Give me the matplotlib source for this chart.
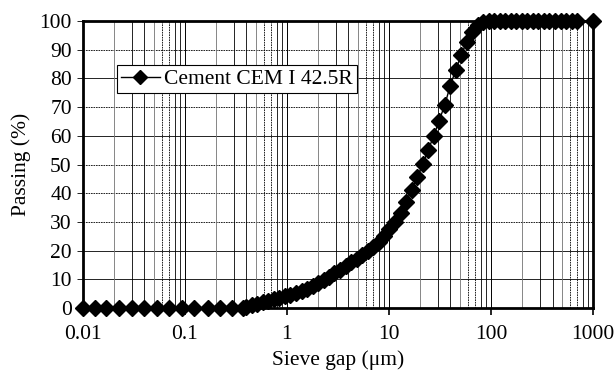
import matplotlib.pyplot as plt
from matplotlib.ticker import FixedLocator, NullLocator

plt.rcParams['font.family'] = ['Liberation Serif', 'DejaVu Serif']

# particle size distribution, cement CEM I 42.5R
size_um = [0.01, 0.013, 0.017, 0.0226, 0.030, 0.0398, 0.0527, 0.070, 0.0927,
           0.123, 0.168, 0.22, 0.286, 0.372,
           0.40, 0.453, 0.513, 0.581, 0.658, 0.745, 0.843, 0.955, 1.08, 1.22,
           1.39, 1.57, 1.78, 2.01, 2.28, 2.58, 2.92, 3.31, 3.75, 4.25,
           4.81, 5.45, 6.17, 6.98, 7.91, 8.95, 10.1, 11.5, 13.0, 14.7,
           16.7, 18.9, 21.4, 24.2, 27.4, 31.0, 35.2, 39.8, 45.1, 51.1,
           57.8, 65.5, 74.1, 83.9, 95.1, 108, 122, 138, 156, 177,
           200, 227, 257, 291, 330, 373, 423, 479, 542, 614,
           695, 1000]
passing = [0, 0, 0, 0, 0, 0, 0, 0, 0,
           0, 0, 0, 0, 0,
           0.5, 1.0, 1.5, 2.0, 2.5, 3.0, 3.5, 4.0, 4.6, 5.2,
           5.9, 6.7, 7.6, 8.6, 9.7, 10.9, 12.1, 13.3, 14.6, 15.9,
           17.2, 18.5, 19.9, 21.4, 23.1, 25.1, 27.4, 30.0, 33.2, 37.0,
           41.2, 45.6, 50.2, 55.0, 60.0, 65.3, 70.8, 77.5, 83.0, 88.3,
           92.8, 96.2, 98.7, 99.7, 100, 100, 100, 100, 100, 100,
           100, 100, 100, 100, 100, 100, 100, 100, 100, 100,
           100, 100]

x_ticks = [0.01, 0.1, 1, 10, 100, 1000]
x_labels = ['0.01', '0.1', '1', '10', '100', '1000']
y_ticks = [0, 10, 20, 30, 40, 50, 60, 70, 80, 90, 100]

fs = 15.5

fig = plt.figure(figsize=(6.14, 3.76), dpi=100)
ax = fig.add_axes([0.135, 0.181, 0.831, 0.763])

ax.set_xscale('log')
ax.set_xlim(0.01, 1000)
ax.set_ylim(0, 100)

# grid: the scan shows a mix of solid and dashed lines
h_style = {10: '-', 20: '-', 30: '--', 40: '--', 50: '--', 60: '-', 70: '--', 80: '-', 90: '--'}
for v, ls in h_style.items():
    if ls == '--':
        ax.axhline(v, color='black', lw=0.6, ls='--', dashes=(2, 1), zorder=1)
    else:
        ax.axhline(v, color='black', lw=0.6, zorder=1)

minor_style = {2: '-', 3: '-', 4: '-', 5: '-', 6: '--', 7: '--', 8: '-', 9: '-'}
for dec in x_ticks[:-1]:
    for m, ls in minor_style.items():
        col = '0.45' if m in (2, 5) else 'black'
        if ls == '--':
            ax.axvline(dec * m, color=col, lw=0.6, ls='--', dashes=(2, 1), zorder=1)
        else:
            ax.axvline(dec * m, color=col, lw=0.6, zorder=1)
for dec in x_ticks[1:-1]:
    ax.axvline(dec, color='black', lw=0.7, zorder=1)

ax.plot(size_um, passing, color='black', lw=1.0, marker='D', ms=8.5,
        label='Cement CEM I 42.5R', clip_on=False, zorder=3)

ax.xaxis.set_major_locator(FixedLocator(x_ticks))
ax.set_xticklabels(x_labels)
ax.xaxis.set_minor_locator(NullLocator())
ax.set_yticks(y_ticks)

ax.tick_params(axis='x', direction='out', length=5, width=1.2, pad=7, labelsize=fs)
ax.tick_params(axis='y', direction='out', length=4, width=0.6, pad=4, labelsize=fs)

for sp in ax.spines.values():
    sp.set_linewidth(2)
    sp.set_zorder(2)

ax.set_xlabel('Sieve gap (\u03bcm)', fontsize=fs, labelpad=5)
ax.set_ylabel('Passing (%)', fontsize=fs, labelpad=6)

leg = ax.legend(loc='upper left', bbox_to_anchor=(0.066, 0.848), fontsize=fs,
                frameon=True, fancybox=False, borderpad=0.2, handlelength=1.8,
                handletextpad=0.2, borderaxespad=0, markerscale=0.8)
leg.get_frame().set_edgecolor('black')
leg.get_frame().set_linewidth(0.8)
leg.get_frame().set_alpha(1)

fig.savefig('out.png', dpi=100)
